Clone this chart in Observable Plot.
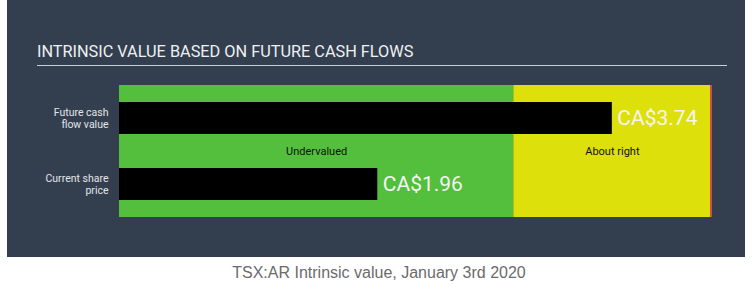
<!DOCTYPE html>
<html>
<head>
<meta charset="utf-8">
<script src="https://cdn.jsdelivr.net/npm/d3@7"></script>
<script src="https://cdn.jsdelivr.net/npm/@observablehq/plot@0.6"></script>
<style>
  html, body { margin: 0; padding: 0; background: #ffffff; }
  #wrap { position: relative; width: 754px; height: 296px; overflow: hidden; }
  #panel { position: absolute; left: 7px; top: 0; width: 738px; height: 257px; background: #333f4f; }
  #title { position: absolute; left: 37px; top: 42px; width: 690px; font-family: Roboto, sans-serif; font-size: 16.3px; color: #eef0f2; line-height: 20px; padding-bottom: 3px; border-bottom: 1.5px solid #c9ced4; white-space: nowrap; }
  #chart { position: absolute; left: 0; top: 0; }
  #caption { position: absolute; left: 2px; top: 264px; width: 754px; text-align: center; font-family: "Liberation Sans", Arial, sans-serif; font-size: 16px; color: #6b6b6b; }
</style>
</head>
<body>
<div id="wrap">
  <div id="panel"></div>
  <div id="title">INTRINSIC VALUE BASED ON FUTURE CASH FLOWS</div>
  <div id="chart"></div>
  <div id="caption">TSX:AR Intrinsic value, January 3rd 2020</div>
</div>
<script>
// Data
const categories = ["Future cash flow value", "Current share price"];
const tickLabels = ["Future cash\nflow value", "Current share\nprice"];
const values = [3.74, 1.96];
const valueLabels = ["CA$3.74", "CA$1.96"];
const zoneNames = ["Undervalued", "About right", "Overvalued"];
const zoneStarts = [0, 2.992, 4.488];
const zoneEnds = [2.992, 4.488, 4.5];
const zoneColors = ["#53bf3c", "#dee00b", "#e0474c"];
const xMax = 4.5;

const bars = categories.map((c, i) => ({category: c, value: values[i], label: valueLabels[i]}));
const zones = zoneNames.map((n, i) => ({name: n, x1: zoneStarts[i], x2: zoneEnds[i], color: zoneColors[i], mid: (zoneStarts[i] + zoneEnds[i]) / 2}));
const shownZones = zones.filter(z => z.name !== "Overvalued");

const chart = Plot.plot({
  width: 754,
  height: 257,
  marginLeft: 119,
  marginRight: 42,
  marginTop: 85,
  marginBottom: 40,
  style: {background: "transparent", overflow: "visible"},
  x: {domain: [0, xMax], axis: null},
  y: {domain: categories, padding: 0, axis: null},
  marks: [
    Plot.rect(zones, {x1: "x1", x2: "x2", fill: "color"}),
    Plot.barX(bars, {y: "category", x: "value", fill: "#000000", insetTop: 17, insetBottom: 17}),
    Plot.text(shownZones, {x: "mid", text: "name", frameAnchor: "middle", fill: "#111111", fontSize: 11, fontFamily: "Roboto, sans-serif"}),
    Plot.text(bars, {y: "category", x: "value", text: "label", dx: 5, textAnchor: "start", fill: "#f4f4f4", fontSize: 21, fontFamily: "Roboto, sans-serif", style: {textShadow: "0 0 3px rgba(0,0,0,0.6)"}}),
    Plot.axisY({domain: categories, tickSize: 0, tickPadding: 11, tickFormat: (d) => tickLabels[categories.indexOf(d)], fill: "#e3e5e8", fontSize: 10.5, fontFamily: "Roboto, sans-serif", lineHeight: 1.14, label: null})
  ]
});
document.getElementById("chart").appendChild(chart);
</script>
</body>
</html>
